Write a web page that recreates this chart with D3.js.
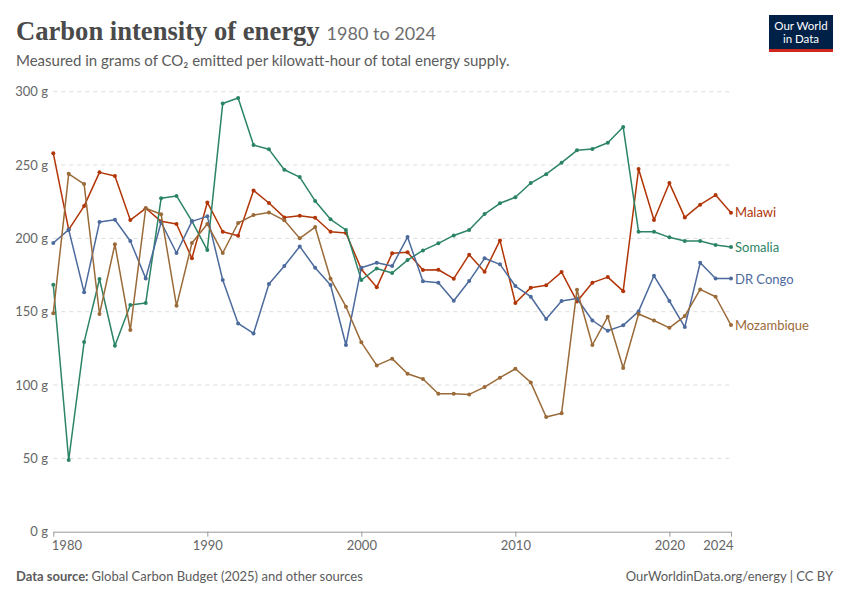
<!DOCTYPE html>
<html lang="en">
<head>
<meta charset="UTF-8">
<title>Carbon intensity of energy</title>
<script src="https://cdnjs.cloudflare.com/ajax/libs/d3/7.8.5/d3.min.js"></script>
<style>
  body { margin: 0; background: #fff; }
  svg { display: block; font-family: Lato, "Noto Sans", sans-serif; }
</style>
</head>
<body>
<svg id="chart" width="850" height="600"></svg>
<script>
const years = [1980, 1981, 1982, 1983, 1984, 1985, 1986, 1987, 1988, 1989,
  1990, 1991, 1992, 1993, 1994, 1995, 1996, 1997, 1998, 1999,
  2000, 2001, 2002, 2003, 2004, 2005, 2006, 2007, 2008, 2009,
  2010, 2011, 2012, 2013, 2014, 2015, 2016, 2017, 2018, 2019,
  2020, 2021, 2022, 2023, 2024];

const malawi = [258, 206, 222, 245, 242.5, 212.5, 220.5, 211.6, 209.8, 186.4,
  224.5, 204.5, 201.8, 232.7, 224.1, 214.3, 215.5, 214.1, 204.5, 203.6,
  179, 166.6, 189.8, 190.5, 178.4, 178.6, 172.5, 188.9, 177.3, 198.6,
  155.9, 166.4, 168, 177, 157, 169.8, 173.6, 164, 247.3, 212.5,
  237.7, 214.3, 223, 229.5, 217.5];

const somalia = [168.4, 48.9, 129.3, 172.3, 126.8, 154.5, 155.9, 227.3, 228.9, 211.8,
  192, 292, 295.7, 263.6, 260.7, 246.8, 241.8, 225.5, 213, 205.7,
  171.6, 179.5, 176.4, 185.2, 191.8, 196.6, 202, 205.7, 216.6, 223.9,
  228, 237.7, 243.8, 251.6, 260, 260.9, 265.2, 275.9, 204.5, 204.5,
  200.7, 198.2, 198.2, 195.5, 194.1];

const drCongo = [196.8, 206, 163.2, 211.1, 212.7, 198.2, 172.7, 211, 190, 211.6,
  215, 171.6, 142, 135.2, 168.9, 181.1, 194.5, 180, 168.2, 127.3,
  180, 183.4, 181.1, 200.9, 170.7, 169.8, 157.5, 170.9, 186.4, 182.3,
  167.5, 160.2, 145, 157.3, 159, 144, 137, 140.7, 150.2, 174.5,
  157.3, 139.5, 183.4, 172.7, 172.7];

const mozambique = [149, 244, 237, 148.4, 196, 137.5, 220.5, 216.4, 154, 196.8,
  209.8, 190, 210.5, 215.9, 217.7, 212.3, 200, 207.7, 172.5, 153.4,
  129.1, 113.4, 118, 107.7, 104.1, 94.1, 94.1, 93.6, 98.6, 105,
  111.1, 101.8, 78.2, 80.7, 165, 127.3, 146.6, 111.6, 148.4, 144,
  139, 147, 165.2, 160.2, 140.9];

const yTicks = [0, 50, 100, 150, 200, 250, 300];
const xTicks = [1980, 1990, 2000, 2010, 2020, 2024];

const series = [
  { name: 'Malawi', values: malawi, color: '#b13507', labelY: 212 },
  { name: 'Somalia', values: somalia, color: '#2b8465', labelY: 247 },
  { name: 'DR Congo', values: drCongo, color: '#4c6a9c', labelY: 279 },
  { name: 'Mozambique', values: mozambique, color: '#9a6a38', labelY: 325 }
];

const svg = d3.select('#chart');

const x = d3.scaleLinear().domain([1980, 2024]).range([53.3, 731]);
const y = d3.scaleLinear().domain([0, 300]).range([531.7, 91.7]);

// header
const title = svg.append('text')
  .attr('x', 16).attr('y', 40)
  .style('font-family', '"Liberation Serif", "DejaVu Serif", serif')
  .style('font-size', '26.6px')
  .style('font-weight', 700)
  .style('fill', '#4a4a4a')
  .text('Carbon intensity of energy');

const titleW = title.node().getComputedTextLength();

svg.append('text')
  .attr('x', 16 + titleW + 7).attr('y', 40)
  .style('font-size', '18px')
  .style('fill', '#6e6e6e')
  .text('1980 to 2024');

svg.append('text')
  .attr('x', 16).attr('y', 66)
  .style('font-size', '15px')
  .style('fill', '#5b5b5b')
  .text('Measured in grams of CO₂ emitted per kilowatt-hour of total energy supply.');

// logo
const logo = svg.append('g').attr('transform', 'translate(769,15)');
logo.append('rect').attr('width', 64).attr('height', 37).attr('fill', '#002147');
logo.append('rect').attr('y', 34).attr('width', 64).attr('height', 3).attr('fill', '#ce261e');
logo.append('text').attr('x', 32).attr('y', 15)
  .attr('text-anchor', 'middle').style('font-size', '11.5px').style('fill', '#fff')
  .text('Our World');
logo.append('text').attr('x', 32).attr('y', 28)
  .attr('text-anchor', 'middle').style('font-size', '11.5px').style('fill', '#fff')
  .text('in Data');

// gridlines + y labels
const grid = svg.append('g');
grid.selectAll('line')
  .data(yTicks.filter(d => d > 0))
  .enter().append('line')
  .attr('x1', x(1980)).attr('x2', x(2024))
  .attr('y1', d => y(d)).attr('y2', d => y(d))
  .attr('stroke', '#dddddd')
  .attr('stroke-dasharray', '4,4');

grid.selectAll('text')
  .data(yTicks)
  .enter().append('text')
  .attr('x', 48).attr('y', d => y(d))
  .attr('dy', '0.35em')
  .attr('text-anchor', 'end')
  .style('font-size', '13px')
  .style('fill', '#666')
  .text(d => d + ' g');

// x axis
const xAxis = d3.axisBottom(x)
  .tickValues(xTicks)
  .tickFormat(d3.format('d'))
  .tickSize(5)
  .tickSizeOuter(0);

const axisG = svg.append('g')
  .attr('transform', `translate(0,${y(0)})`)
  .call(xAxis);

axisG.select('.domain').attr('stroke', '#999');
axisG.selectAll('.tick line').attr('stroke', '#999');
axisG.selectAll('.tick text')
  .attr('y', 9)
  .style('font-size', '13px')
  .style('font-family', 'Lato, sans-serif')
  .style('fill', '#666')
  .attr('text-anchor', d => d === 1980 ? 'start' : (d === 2024 ? 'end' : 'middle'))
  .attr('dx', d => d === 1980 ? -2 : (d === 2024 ? 2 : 0));

// lines
const line = d3.line()
  .x((d, i) => x(years[i]))
  .y(d => y(d));

series.forEach(s => {
  const g = svg.append('g');
  g.append('path')
    .datum(s.values)
    .attr('d', line)
    .attr('fill', 'none')
    .attr('stroke', s.color)
    .attr('stroke-width', 1.5)
    .attr('stroke-linejoin', 'round');

  g.selectAll('circle')
    .data(s.values)
    .enter().append('circle')
    .attr('cx', (d, i) => x(years[i]))
    .attr('cy', d => y(d))
    .attr('r', 2)
    .attr('fill', s.color);

  g.append('text')
    .attr('x', 735).attr('y', s.labelY)
    .attr('dy', '0.35em')
    .style('font-size', '13px')
    .style('fill', s.color)
    .text(s.name);
});

// footer
const src = svg.append('text')
  .attr('x', 16).attr('y', 581)
  .style('font-size', '13px')
  .style('fill', '#5b5b5b');
src.append('tspan').style('font-weight', 700).text('Data source: ');
src.append('tspan').text('Global Carbon Budget (2025) and other sources');

svg.append('text')
  .attr('x', 833).attr('y', 581)
  .attr('text-anchor', 'end')
  .style('font-size', '13px')
  .style('fill', '#5b5b5b')
  .text('OurWorldinData.org/energy | CC BY');
</script>
</body>
</html>
